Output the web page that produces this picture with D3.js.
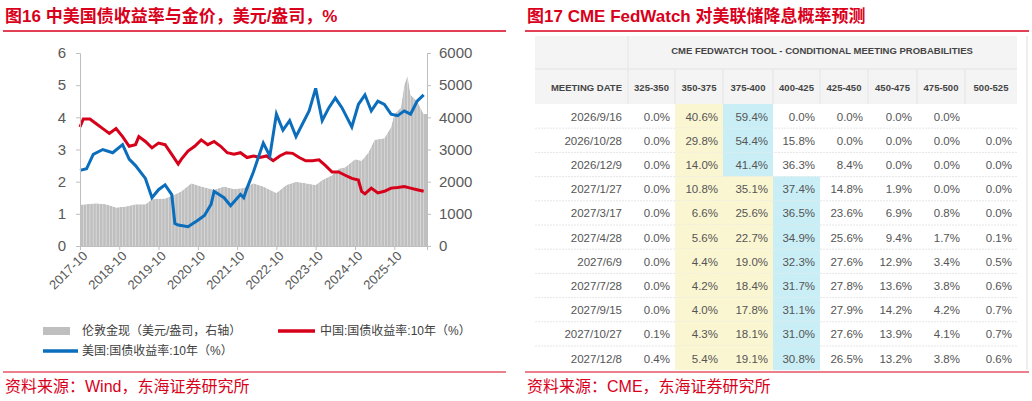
<!DOCTYPE html>
<html><head><meta charset="utf-8">
<script src="https://cdn.jsdelivr.net/npm/d3@7"></script>
<style>body{margin:0;background:#fff}svg{font-family:"Liberation Sans",Arial,"Noto Sans CJK SC",sans-serif}</style>
</head><body><svg id="c" width="1032" height="401"></svg>
<script>
// ---------- Left chart data ----------
const usDates=["2017-10","2017-12","2018-02","2018-05","2018-08","2018-11","2019-01","2019-03","2019-06","2019-08","2019-10","2019-12","2020-02","2020-03","2020-04","2020-07","2020-10","2020-12","2021-02","2021-03","2021-06","2021-08","2021-11","2021-12","2022-01","2022-03","2022-05","2022-06","2022-08","2022-10","2022-12","2023-02","2023-04","2023-06","2023-08","2023-10","2023-12","2024-02","2024-04","2024-06","2024-09","2024-11","2025-01","2025-03","2025-05","2025-07","2025-09","2025-11","2026-01","2026-03","2026-05","2026-07"];
const usYield=[2.35,2.4,2.85,3.0,2.9,3.15,2.7,2.5,2.1,1.5,1.75,1.9,1.6,0.7,0.65,0.6,0.8,0.95,1.3,1.7,1.5,1.25,1.6,1.5,1.8,2.3,2.9,3.2,2.8,4.1,3.6,3.9,3.4,3.8,4.2,4.9,3.9,4.3,4.6,4.3,3.7,4.4,4.7,4.2,4.5,4.4,4.1,4.05,4.2,4.1,4.5,4.7];
const cnDates=["2017-10","2017-11","2018-01","2018-03","2018-05","2018-07","2018-09","2018-11","2019-01","2019-03","2019-04","2019-06","2019-08","2019-10","2019-12","2020-02","2020-04","2020-05","2020-07","2020-09","2020-11","2021-01","2021-03","2021-05","2021-07","2021-09","2021-11","2022-01","2022-03","2022-05","2022-07","2022-09","2022-11","2023-01","2023-03","2023-05","2023-07","2023-09","2023-11","2024-01","2024-03","2024-05","2024-07","2024-09","2024-11","2024-12","2025-01","2025-03","2025-05","2025-07","2025-09","2025-11","2026-01","2026-03","2026-05","2026-07"];
const cnYield=[3.7,3.95,3.95,3.8,3.65,3.5,3.65,3.4,3.1,3.15,3.4,3.25,3.05,3.2,3.15,2.85,2.55,2.7,2.95,3.1,3.3,3.15,3.25,3.1,2.9,2.85,2.9,2.75,2.8,2.75,2.8,2.65,2.8,2.9,2.88,2.75,2.65,2.65,2.68,2.5,2.3,2.3,2.2,2.1,2.05,1.7,1.62,1.8,1.65,1.7,1.8,1.82,1.85,1.8,1.75,1.7];
const goldDates=["2017-10","2018-03","2018-06","2018-09","2018-12","2019-03","2019-06","2019-08","2019-12","2020-03","2020-05","2020-08","2020-11","2021-03","2021-06","2021-09","2021-12","2022-03","2022-06","2022-10","2023-01","2023-04","2023-07","2023-10","2023-12","2024-03","2024-05","2024-07","2024-10","2024-12","2025-02","2025-04","2025-07","2025-09","2025-10","2025-12","2026-01","2026-02","2026-03","2026-05","2026-07","2026-08"];
const goldPrice=[1280,1330,1300,1200,1230,1300,1300,1450,1480,1600,1700,1950,1850,1750,1850,1770,1800,1950,1850,1650,1900,2000,1950,1900,2050,2200,2400,2450,2700,2650,2900,3300,3350,3700,4100,4300,5000,5300,4700,4500,4100,4100];
const leftTicks=[0,1,2,3,4,5,6];
const rightTicks=[0,1000,2000,3000,4000,5000,6000];
const xTickLabels=["2017-10","2018-10","2019-10","2020-10","2021-10","2022-10","2023-10","2024-10","2025-10"];

// ---------- Table data ----------
const rateRanges=["325-350","350-375","375-400","400-425","425-450","450-475","475-500","500-525"];
const meetings=["2026/9/16","2026/10/28","2026/12/9","2027/1/27","2027/3/17","2027/4/28","2027/6/9","2027/7/28","2027/9/15","2027/10/27","2027/12/8"];
const probs=[
["0.0%","40.6%","59.4%","0.0%","0.0%","0.0%","0.0%",""],
["0.0%","29.8%","54.4%","15.8%","0.0%","0.0%","0.0%","0.0%"],
["0.0%","14.0%","41.4%","36.3%","8.4%","0.0%","0.0%","0.0%"],
["0.0%","10.8%","35.1%","37.4%","14.8%","1.9%","0.0%","0.0%"],
["0.0%","6.6%","25.6%","36.5%","23.6%","6.9%","0.8%","0.0%"],
["0.0%","5.6%","22.7%","34.9%","25.6%","9.4%","1.7%","0.1%"],
["0.0%","4.4%","19.0%","32.3%","27.6%","12.9%","3.4%","0.5%"],
["0.0%","4.2%","18.4%","31.7%","27.8%","13.6%","3.8%","0.6%"],
["0.0%","4.0%","17.8%","31.1%","27.9%","14.2%","4.2%","0.7%"],
["0.1%","4.3%","18.1%","31.0%","27.6%","13.9%","4.1%","0.7%"],
["0.4%","5.4%","19.1%","30.8%","26.5%","13.2%","3.8%","0.6%"]];
const blueCol=[2,2,2,3,3,3,3,3,3,3,3];

const svg=d3.select("#c");
const RED="#d9001b";
svg.append("text").attr("x",5).attr("y",22).attr("fill",RED).attr("font-size",17).attr("font-weight","bold").text("图16  中美国债收益率与金价，美元/盎司，%");
svg.append("text").attr("x",527).attr("y",22).attr("fill",RED).attr("font-size",17).attr("font-weight","bold").text("图17  CME FedWatch 对美联储降息概率预测");
[[3,506],[525,1029]].forEach(([a,b])=>{
 svg.append("line").attr("x1",a).attr("x2",b).attr("y1",31).attr("y2",31).attr("stroke",RED).attr("stroke-width",1.5);
});

// ---------- Left chart ----------
const pm=d3.timeParse("%Y-%m");
const x=d3.scaleTime().domain([pm("2017-10"),pm("2026-08")]).range([80,427]);
const yL=d3.scaleLinear().domain([0,6]).range([246,53]);
const yR=d3.scaleLinear().domain([0,6000]).range([246,53]);
const g=svg.append("g");
const gold=goldDates.map((d,i)=>({d:pm(d),v:goldPrice[i]}));
g.append("path").datum(gold).attr("fill","#bfbfbf")
 .attr("d",d3.area().x(d=>x(d.d)).y0(yR(0)).y1(d=>yR(d.v)));
const gapDates=d3.timeMonth.every(1).range(pm("2017-11"),pm("2026-08"));
g.selectAll("line.gap").data(gapDates).join("line").attr("x1",d=>x(d)).attr("x2",d=>x(d))
 .attr("y1",yR(0)).attr("y2",yR(6000)).attr("stroke","#fff").attr("stroke-width",0.5).attr("opacity",0.8);
g.append("path").datum(gold).attr("fill","#fff")
 .attr("d",d3.area().x(d=>x(d.d)).y0(yR(6000)).y1(d=>yR(d.v)));
const line=d3.line().x(d=>x(d.d)).y(d=>yL(d.v));
g.append("path").datum(cnDates.map((d,i)=>({d:pm(d),v:cnYield[i]}))).attr("fill","none").attr("stroke","#d7001a").attr("stroke-width",3).attr("d",line);
g.append("path").datum(usDates.map((d,i)=>({d:pm(d),v:usYield[i]}))).attr("fill","none").attr("stroke","#0a6ebd").attr("stroke-width",3).attr("d",line);
const axL=svg.append("g").attr("transform","translate(80,0)").call(d3.axisLeft(yL).tickValues(leftTicks).tickFormat(d3.format("d")).tickSize(4).tickPadding(10));
const axR=svg.append("g").attr("transform","translate(427,0)").call(d3.axisRight(yR).tickValues(rightTicks).tickFormat(d3.format("d")).tickSize(4).tickPadding(8));
const axB=svg.append("g").attr("transform","translate(0,246)").call(d3.axisBottom(x).tickValues(xTickLabels.map(pm)).tickFormat(d3.timeFormat("%Y-%m")).tickSize(4));
[axL,axR,axB].forEach(a=>{a.selectAll("path,line").attr("stroke","#bfbfbf");a.selectAll("text").attr("fill","#595959").attr("font-size",15).attr("font-family","Liberation Sans,Arial");});
axB.selectAll("text").attr("text-anchor","end").attr("font-size",13).attr("dx","-2").attr("dy","6").attr("transform","rotate(-45)");
const lg=svg.append("g").attr("font-size",12).attr("fill","#404040");
lg.append("rect").attr("x",43).attr("y",327).attr("width",27).attr("height",8).attr("fill","#bfbfbf");
lg.append("text").attr("x",82).attr("y",335).text("伦敦金现（美元/盎司，右轴）");
lg.append("line").attr("x1",278).attr("x2",315).attr("y1",331).attr("y2",331).attr("stroke","#d7001a").attr("stroke-width",3.5);
lg.append("text").attr("x",320).attr("y",335).text("中国:国债收益率:10年（%）");
lg.append("line").attr("x1",43).attr("x2",78).attr("y1",351).attr("y2",351).attr("stroke","#0a6ebd").attr("stroke-width",3.5);
lg.append("text").attr("x",82).attr("y",355).text("美国:国债收益率:10年（%）");

// ---------- Table ----------
const bounds=[535,628,675,723,773,820,868,917,965,1017];
const t=svg.append("g").attr("font-family","Liberation Sans,Arial");
t.append("rect").attr("x",535).attr("y",36).attr("width",482).attr("height",68).attr("fill","#f4f4f4");
t.append("line").attr("x1",628).attr("x2",628).attr("y1",36).attr("y2",68).attr("stroke","#e3e3e3");
t.append("line").attr("x1",535).attr("x2",1017).attr("y1",69).attr("y2",69).attr("stroke","#e3e3e3");
t.append("text").attr("x",822).attr("y",54).attr("text-anchor","middle").attr("font-size",9.5).attr("font-weight","bold").attr("fill","#444").text("CME FEDWATCH TOOL - CONDITIONAL MEETING PROBABILITIES");
t.append("text").attr("x",622).attr("y",91).attr("text-anchor","end").attr("font-size",9.5).attr("font-weight","bold").attr("fill","#444").text("MEETING DATE");
rateRanges.forEach((r,j)=>{
 t.append("text").attr("x",(bounds[j+1]+bounds[j+2])/2).attr("y",91).attr("text-anchor","middle").attr("font-size",9.5).attr("font-weight","bold").attr("fill","#444").text(r);
 t.append("line").attr("x1",bounds[j+1]).attr("x2",bounds[j+1]).attr("y1",69).attr("y2",104).attr("stroke","#e3e3e3");
});
const RH=24.2;
const rowY=i=>104+i*RH;
meetings.forEach((m,i)=>{
 const y0=rowY(i);
 probs[i].forEach((v,j)=>{
  const b=blueCol[i];
  let fill=null;
  if(j===b) fill="#c9eef6"; else if(j>=1&&j<b) fill="#fbf6d2";
  if(fill) t.append("rect").attr("x",bounds[j+1]).attr("y",y0).attr("width",bounds[j+2]-bounds[j+1]).attr("height",RH).attr("fill",fill);
 });
 if(i<meetings.length-1) t.append("line").attr("x1",535).attr("x2",1017).attr("y1",y0+RH).attr("y2",y0+RH).attr("stroke","#e6e6e6").attr("stroke-dasharray","2,1");
 t.append("text").attr("x",622).attr("y",y0+16.5).attr("text-anchor","end").attr("font-size",11.5).attr("fill","#555").text(m);
 probs[i].forEach((v,j)=>{
  t.append("text").attr("x",bounds[j+2]-5).attr("y",y0+16.5).attr("text-anchor","end").attr("font-size",11.5).attr("fill","#555").text(v);
 });
});
t.append("line").attr("x1",1027).attr("x2",1027).attr("y1",36).attr("y2",370).attr("stroke","#ddd");

[[3,506],[525,1029]].forEach(([a,b])=>{
 svg.append("line").attr("x1",a).attr("x2",b).attr("y1",372).attr("y2",372).attr("stroke",RED).attr("stroke-width",1.2);
});
svg.append("text").attr("x",5).attr("y",392).attr("fill",RED).attr("font-size",16).text("资料来源：Wind，东海证券研究所");
svg.append("text").attr("x",527).attr("y",392).attr("fill",RED).attr("font-size",16).text("资料来源：CME，东海证券研究所");
</script></body></html>
